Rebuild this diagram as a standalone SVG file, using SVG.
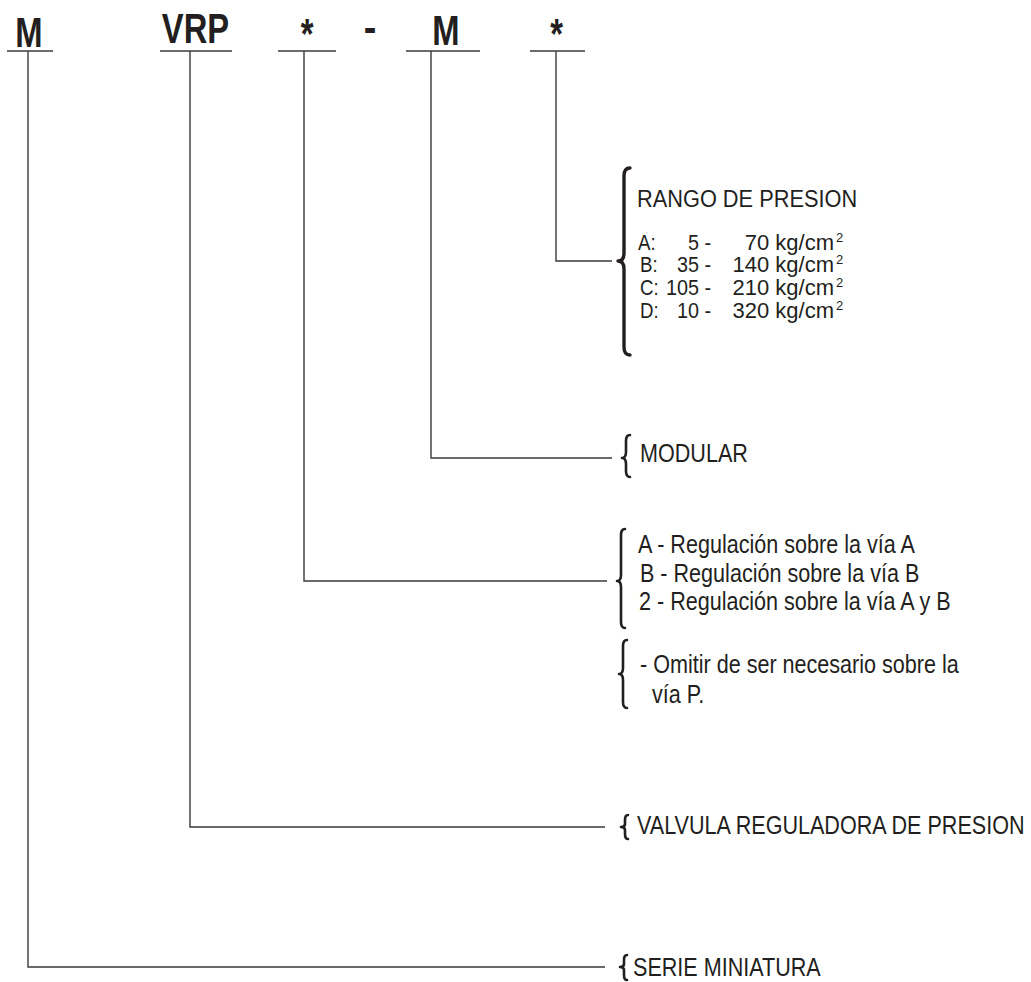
<svg xmlns="http://www.w3.org/2000/svg" width="1031" height="982" viewBox="0 0 1031 982">
<style>
.hd{font-family:"Liberation Sans",Arial,sans-serif;font-weight:bold;font-size:42px;fill:#231f20;text-anchor:middle}
.tx{font-family:"Liberation Sans",Arial,sans-serif;font-size:26px;fill:#231f20}
.tr{font-family:"Liberation Sans",Arial,sans-serif;font-size:22px;fill:#231f20}
.sp{font-family:"Liberation Sans",Arial,sans-serif;font-size:13px;fill:#231f20}
.end{text-anchor:end}
.ln{fill:none;stroke:#3a3a3a;stroke-width:1.4}
.br{fill:none;stroke:#231f20;stroke-width:2.6;stroke-linecap:round;stroke-linejoin:round}
</style>
<rect width="1031" height="982" fill="#ffffff"/>
<g id="header">
<text class="hd" transform="translate(29,47) scale(0.78,1)">M</text>
<text class="hd" transform="translate(195.5,43) scale(0.78,1)">VRP</text>
<text class="hd" transform="translate(307,48) scale(0.78,1)">*</text>
<text class="hd" transform="translate(370,42) scale(0.9,1)">-</text>
<text class="hd" transform="translate(446,45) scale(0.78,1)">M</text>
<text class="hd" transform="translate(556.5,48) scale(0.78,1)">*</text>
<g class="ln">
<line x1="7" y1="51" x2="53" y2="51"/>
<line x1="160" y1="51" x2="232" y2="51"/>
<line x1="278" y1="51" x2="336" y2="51"/>
<line x1="406" y1="51" x2="480" y2="51"/>
<line x1="530" y1="51" x2="585" y2="51"/>
</g>
</g>
<g id="connectors" class="ln">
<polyline points="556,51 556,261 612,261"/>
<polyline points="431,51 431,458 612,458"/>
<polyline points="304,51 304,581 607,581"/>
<polyline points="190,51 190,827 605,827"/>
<polyline points="28,51 28,967 605,967"/>
</g>
<g id="rango">
<path class="br" style="stroke-width:3.4" d="M630,168 Q624,168 624,176 L624,253 Q624,261 618,261 Q624,261 624,269 L624,347 Q624,355 630,355"/>
<text class="tr" transform="translate(637,207) scale(0.99,1.05)">RANGO DE PRESION</text>
<text class="tr" transform="translate(638,250) scale(0.85,1)">A:</text>
<text class="tr end" transform="translate(711,250) scale(0.9,1)">5 -</text>
<text class="tr end" x="834" y="250">70 kg/cm</text>
<text class="sp" x="836" y="242">2</text>
<text class="tr" transform="translate(640,272) scale(0.85,1)">B:</text>
<text class="tr end" transform="translate(711,272) scale(0.9,1)">35 -</text>
<text class="tr end" x="834" y="272">140 kg/cm</text>
<text class="sp" x="836" y="264">2</text>
<text class="tr" transform="translate(640,295) scale(0.85,1)">C:</text>
<text class="tr end" transform="translate(711,295) scale(0.9,1)">105 -</text>
<text class="tr end" x="834" y="295">210 kg/cm</text>
<text class="sp" x="836" y="287">2</text>
<text class="tr" transform="translate(640,318) scale(0.85,1)">D:</text>
<text class="tr end" transform="translate(711,318) scale(0.9,1)">10 -</text>
<text class="tr end" x="834" y="318">320 kg/cm</text>
<text class="sp" x="836" y="310">2</text>
</g>
<g id="modular">
<path class="br" d="M630,435 Q626,435 626,441 L626,452 Q626,458 622,458 Q626,458 626,464 L626,471 Q626,477 630,477"/>
<text class="tx" transform="translate(640,462) scale(0.83,1)">MODULAR</text>
</g>
<g id="regulacion">
<path class="br" d="M625,529 Q621,529 621,535 L621,575 Q621,581 617,581 Q621,581 621,587 L621,622 Q621,628 625,628"/>
<text class="tx" transform="translate(638,553) scale(0.83,1)">A - Regulación sobre la vía A</text>
<text class="tx" transform="translate(640,582) scale(0.83,1)">B - Regulación sobre la vía B</text>
<text class="tx" transform="translate(639,610) scale(0.83,1)">2 - Regulación sobre la vía A y B</text>
</g>
<g id="omitir">
<path class="br" d="M627,640 Q623,640 623,646 L623,668 Q623,674 619,674 Q623,674 623,680 L623,702 Q623,708 627,708"/>
<text class="tx" transform="translate(640,673) scale(0.83,1)">- Omitir de ser necesario sobre la</text>
<text class="tx" transform="translate(652,703) scale(0.83,1)">vía P.</text>
</g>
<g id="valvula">
<path class="br" d="M628,815 Q625,815 625,820 L625,824 Q625,827 621,827 Q625,827 625,830 L625,834 Q625,839 628,839"/>
<text class="tx" transform="translate(637,834) scale(0.83,1)">VALVULA REGULADORA DE PRESION</text>
</g>
<g id="serie">
<path class="br" d="M627,955 Q624,955 624,960 L624,964 Q624,967 620,967 Q624,967 624,970 L624,975 Q624,980 627,980"/>
<text class="tx" transform="translate(633,976) scale(0.83,1)">SERIE MINIATURA</text>
</g>
</svg>
